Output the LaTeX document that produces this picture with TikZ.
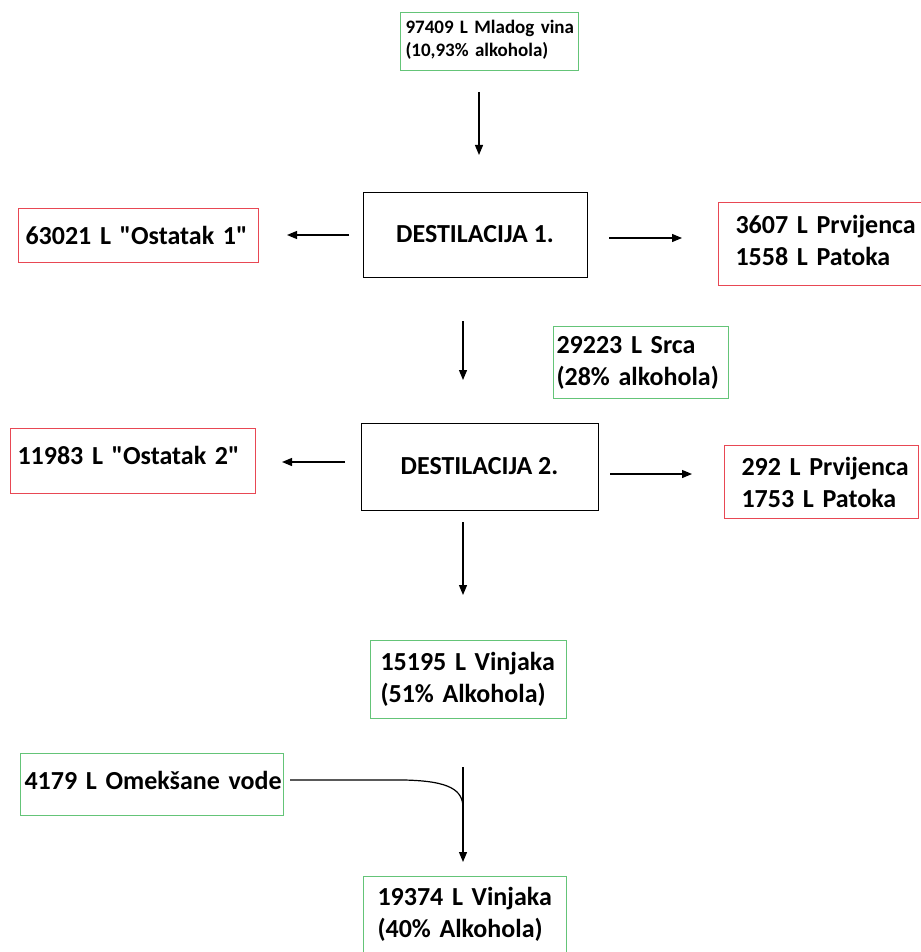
\documentclass[tikz,border=0pt]{standalone}
\usepackage{fontspec}
\setmainfont{Carlito}[Ligatures=TeXOff]
\usepackage{tikz}
\usepackage{xcolor}
\usetikzlibrary{arrows.meta}
\definecolor{boxgreen}{RGB}{100,196,120}
\definecolor{boxred}{RGB}{232,72,84}
\hyphenpenalty=10000
\exhyphenpenalty=10000
\tikzset{
    flow-box/.style = {rectangle, thin, line width=1pt, anchor=north west, align=left, font=\fontsize{26}{32}\selectfont\bfseries},
    green-box/.style = {flow-box, draw=boxgreen},
    red-box/.style = {flow-box, draw=boxred},
    process-box/.style = {draw=black, line width=1pt, rectangle, font=\fontsize{26}{32}\selectfont\bfseries},
    flow-arrow/.style = {-{Triangle[length=10pt,width=8pt]}, line width=1.2pt},
}

\begin{document}
\begin{tikzpicture}[x=1pt,y=-1pt]
\useasboundingbox (0,0) rectangle (920,952);
\node [green-box, inner xsep=5pt, text width=168pt, minimum height=58pt, font=\fontsize{19}{23}\selectfont\bfseries] (wine) at (400,12) {97409~L~Mladog~vina\\(10,93\%~alkohola)\\[-17pt]\mbox{}};
\node [process-box, minimum width=224pt, minimum height=85pt] (dest1) at (475,234.5) {DESTILACIJA 1.};
\node [red-box, inner xsep=7pt, text width=226pt, minimum height=54pt] (rest1) at (18,208) {63021~L~"Ostatak~1"};
\node [red-box, inner xsep=17pt, text width=176pt, minimum height=83pt] (heads1) at (718,202) {3607~L~Prvijenca\\1558~L~Patoka\\[-24pt]\mbox{}};
\node [green-box, inner xsep=3pt, text width=169pt, minimum height=72pt] (heart) at (553,326) {29223~L~Srca\\(28\%~alkohola)};
\node [process-box, minimum width=237pt, minimum height=87pt] (dest2) at (479.5,466.5) {DESTILACIJA 2.};
\node [red-box, inner xsep=7pt, text width=231pt, minimum height=65pt] (rest2) at (10,428) {11983~L~"Ostatak~2"\\[-20pt]\mbox{}};
\node [red-box, inner xsep=17pt, text width=160pt, minimum height=73pt] (heads2) at (724,445) {292~L~Prvijenca\\1753~L~Patoka};
\node [green-box, inner xsep=10pt, text width=176pt, minimum height=78pt] (brandy51) at (370,640) {15195~L~Vinjaka\\(51\%~Alkohola)};
\node [green-box, inner xsep=4pt, text width=255pt, minimum height=62pt] (water) at (20,753) {4179~L~Omekšane~vode\\[-24pt]\mbox{}};
\node [green-box, inner xsep=14pt, text width=175pt, minimum height=82pt] (brandy40) at (363,876) {19374~L~Vinjaka\\(40\%~Alkohola)\\[-22pt]\mbox{}};

% arrow ends
\coordinate (a1-tail) at (479,92);   \coordinate (a1-tip) at (479,155);
\coordinate (a2-tail) at (349,235);  \coordinate (a2-tip) at (287,235);
\coordinate (a3-tail) at (609,238);  \coordinate (a3-tip) at (682,238);
\coordinate (a4-tail) at (463,321);  \coordinate (a4-tip) at (463,380);
\coordinate (a5-tail) at (345,462);  \coordinate (a5-tip) at (282,462);
\coordinate (a6-tail) at (610,474);  \coordinate (a6-tip) at (692,474);
\coordinate (a7-tail) at (463,522);  \coordinate (a7-tip) at (463,595);
\coordinate (a8-tail) at (463,767);  \coordinate (a8-tip) at (463,862);
\coordinate (mix-start) at (290,780);
\coordinate (mix-bend) at (404,780);
\coordinate (mix-join) at (463,808);

\draw [flow-arrow] (a1-tail) -- (a1-tip);
\draw [flow-arrow] (a2-tail) -- (a2-tip);
\draw [flow-arrow] (a3-tail) -- (a3-tip);
\draw [flow-arrow] (a4-tail) -- (a4-tip);
\draw [flow-arrow] (a5-tail) -- (a5-tip);
\draw [flow-arrow] (a6-tail) -- (a6-tip);
\draw [flow-arrow] (a7-tail) -- (a7-tip);
\draw [flow-arrow] (a8-tail) -- (a8-tip);
\draw [line width=1.2pt] (mix-start) -- (mix-bend) .. controls (450,781) and (463,790) .. (mix-join);
\end{tikzpicture}
\end{document}
